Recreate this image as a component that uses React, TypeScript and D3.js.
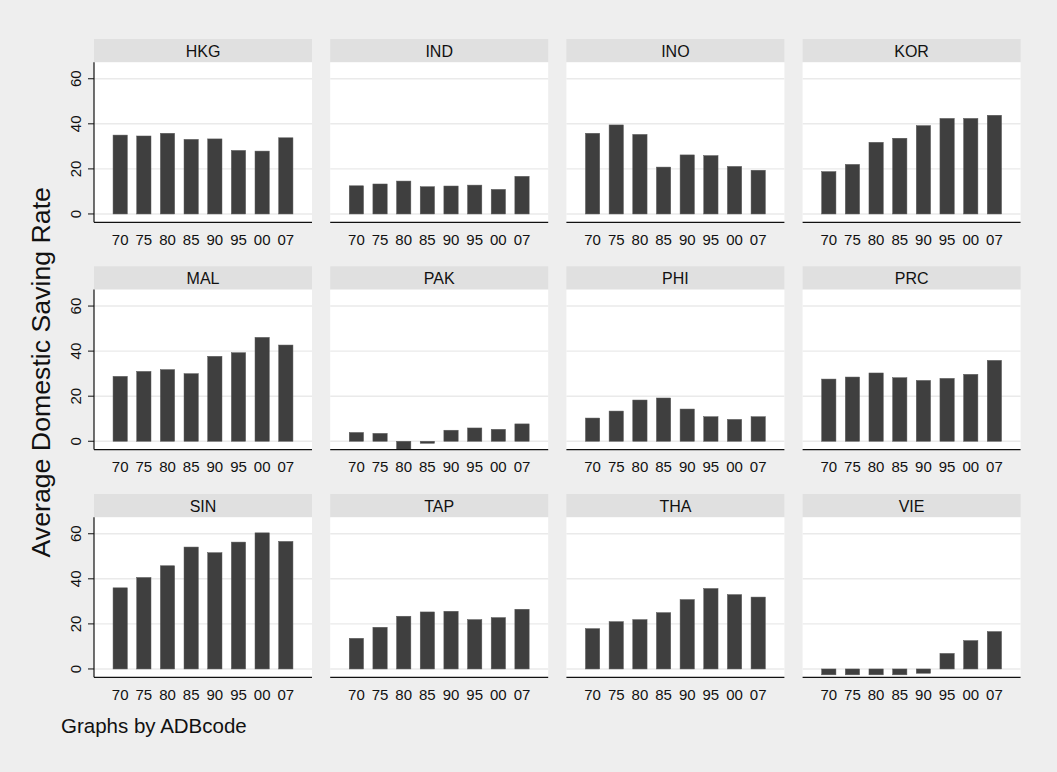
import React from "react";
import * as d3 from "d3";

const countries = ["HKG", "IND", "INO", "KOR", "MAL", "PAK", "PHI", "PRC", "SIN", "TAP", "THA", "VIE"];
const years = ["70", "75", "80", "85", "90", "95", "00", "07"];
const yTicks = [0, 20, 40, 60];

const HKG = [35.0, 34.6, 35.8, 33.1, 33.3, 28.2, 27.9, 33.8];
const IND = [12.5, 13.3, 14.6, 12.1, 12.4, 12.8, 10.9, 16.7];
const INO = [35.8, 39.5, 35.3, 20.8, 26.2, 25.9, 21.1, 19.4];
const KOR = [18.8, 22.0, 31.8, 33.6, 39.2, 42.4, 42.4, 43.8];
const MAL = [28.8, 31.0, 31.8, 30.0, 37.7, 39.3, 46.1, 42.7];
const PAK = [3.9, 3.5, -3.7, -0.9, 4.9, 5.9, 5.3, 7.7];
const PHI = [10.3, 13.4, 18.3, 19.2, 14.3, 10.9, 9.7, 10.9];
const PRC = [27.6, 28.5, 30.3, 28.2, 27.0, 27.9, 29.7, 35.9];
const SIN = [36.0, 40.6, 45.8, 54.1, 51.6, 56.3, 60.4, 56.6];
const TAP = [13.6, 18.5, 23.4, 25.3, 25.6, 21.9, 22.8, 26.5];
const THA = [17.9, 21.0, 21.9, 25.0, 30.8, 35.7, 33.0, 31.9];
const VIE = [-2.6, -2.6, -2.6, -2.6, -1.9, 6.9, 12.6, 16.6];

const seriesByCountry: Record<string, number[]> = { HKG, IND, INO, KOR, MAL, PAK, PHI, PRC, SIN, TAP, THA, VIE };

const yTitle = "Average Domestic Saving Rate";
const note = "Graphs by ADBcode";

const W = 1057;
const H = 772;
const FONT = "'Liberation Sans', Arial, Helvetica, sans-serif";

const colX = [94, 330.2, 566.4, 802.6];
const rowTop = [39, 266.3, 494];
const panelW = 218;
const headerH = 23.3;
const plotH = 160;
const yDomain: [number, number] = [-3.7, 67.3];

export default function App() {
  return (
    <div style={{ position: "fixed", left: 0, top: 0 }}>
      <svg width={W} height={H} style={{ display: "block", fontFamily: FONT }}>
        <rect x={0} y={0} width={W} height={H} fill="#eeeeee" />
        {countries.map((c, i) => {
          const col = i % 4;
          const row = Math.floor(i / 4);
          const x0 = colX[col];
          const top = rowTop[row];
          const pTop = top + headerH;
          const pBot = pTop + plotH;
          const x = d3.scaleBand<string>().domain(years).range([x0, x0 + panelW]).paddingInner(0.396).paddingOuter(0.805);
          const y = d3.scaleLinear().domain(yDomain).range([pBot, pTop]);
          const vals = seriesByCountry[c];
          return (
            <g key={c}>
              <rect x={x0} y={top} width={panelW} height={headerH} fill="#e0e0e0" />
              <text x={x0 + panelW / 2} y={top + 17.5} textAnchor="middle" fontSize={16} fill="#111">
                {c}
              </text>
              <rect x={x0} y={pTop} width={panelW} height={plotH} fill="#ffffff" />
              {yTicks.map((t) => (
                <line key={t} x1={x0} x2={x0 + panelW} y1={y(t)} y2={y(t)} stroke="#eaeaea" strokeWidth={1.4} />
              ))}
              {vals.map((v, j) => (
                <rect
                  key={j}
                  x={x(years[j])!}
                  width={x.bandwidth()}
                  y={Math.min(y(v), y(0))}
                  height={Math.abs(y(v) - y(0))}
                  fill="#3f3f3f"
                  stroke="#5a5a5a"
                  strokeWidth={0.5}
                />
              ))}
              <line x1={x0} x2={x0 + panelW} y1={pBot} y2={pBot} stroke="#111" strokeWidth={1.2} />
              {years.map((yr) => (
                <text key={yr} x={x(yr)! + x.bandwidth() / 2} y={pBot + 22.8} textAnchor="middle" fontSize={15} fill="#111">
                  {yr}
                </text>
              ))}
              {col === 0 && (
                <g>
                  <line x1={x0} x2={x0} y1={pTop} y2={pBot} stroke="#111" strokeWidth={1.2} />
                  {yTicks.map((t) => (
                    <g key={t}>
                      <line x1={x0 - 6} x2={x0} y1={y(t)} y2={y(t)} stroke="#111" strokeWidth={1} />
                      <text
                        transform={`translate(${x0 - 13.5},${y(t)}) rotate(-90)`}
                        textAnchor="middle"
                        fontSize={15}
                        fill="#111"
                      >
                        {t}
                      </text>
                    </g>
                  ))}
                </g>
              )}
            </g>
          );
        })}
        <text transform={`translate(50,372.3) rotate(-90)`} textAnchor="middle" fontSize={26.7} fill="#111">
          {yTitle}
        </text>
        <text x={61} y={733} fontSize={20.5} fill="#111">
          {note}
        </text>
      </svg>
    </div>
  );
}
